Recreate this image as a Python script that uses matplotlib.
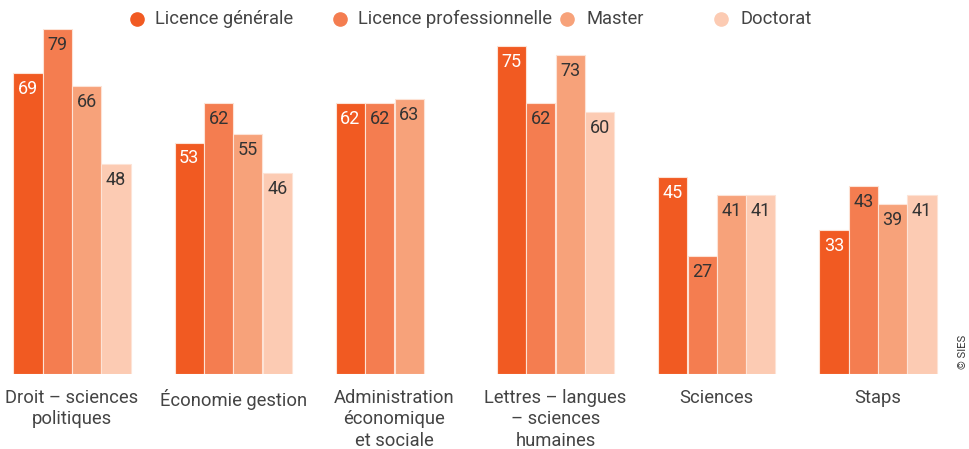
import matplotlib
matplotlib.use("Agg")
import matplotlib.pyplot as plt
from matplotlib.lines import Line2D
import numpy as np

plt.rcParams['font.family'] = ['Roboto', 'DejaVu Sans']

categories = ["Droit – sciences\npolitiques", "Économie gestion",
              "Administration\néconomique\net sociale",
              "Lettres – langues\n– sciences\nhumaines", "Sciences", "Staps"]
series = ["Licence générale", "Licence professionnelle", "Master", "Doctorat"]
values = {
    "Licence générale":        [69, 53, 62, 75, 45, 33],
    "Licence professionnelle": [79, 62, 62, 62, 27, 43],
    "Master":                  [66, 55, 63, 73, 41, 39],
    "Doctorat":                [48, 46, None, 60, 41, 41],
}
colors = ["#F15A22", "#F47D50", "#F7A27A", "#FCCBB3"]
label_colors = ["white", "#333333", "#333333", "#333333"]

W, H = 969, 449
fig = plt.figure(figsize=(W / 100, H / 100), dpi=100)
ax = fig.add_axes([0, (H - 374) / H, 1, (374 - 29) / H])

x = np.arange(len(categories))
bw = 0.18
step = 0.182
for k, s in enumerate(series):
    for i, v in enumerate(values[s]):
        if v is None:
            continue
        xi = x[i] + (k - 1.5) * step
        ax.bar(xi, v, width=bw, color=colors[k], edgecolor="#FDE3D6", linewidth=0.8)
        ax.annotate(str(v), (xi, v), xytext=(0, -5), textcoords="offset points",
                    ha="center", va="top", fontsize=13, color=label_colors[k])

ax.set_xlim((0 - 72) / 161.2, (W - 72) / 161.2)
ax.set_ylim(0, 79)
ax.axis("off")

for i, c in enumerate(categories):
    ax.text(x[i], -3.4, c, ha="center", va="top", fontsize=13.2, color="#444444",
            linespacing=1.26)

# legend
leg_items = [(137, 155), (340, 358), (567, 587), (721, 741)]
for k, (cx, tx) in enumerate(leg_items):
    fig.add_artist(Line2D([cx / W], [1 - 19 / H], marker="o", markersize=9.5,
                          color=colors[k], linestyle="none", transform=fig.transFigure))
    fig.text(tx / W, 1 - 19 / H, series[k], ha="left", va="center",
             fontsize=13.2, color="#444444")

fig.text(963 / W, 1 - 352 / H, "© SIES", rotation=90, ha="center", va="center",
         fontsize=8, color="#333333")

fig.savefig("out.png", dpi=100)
